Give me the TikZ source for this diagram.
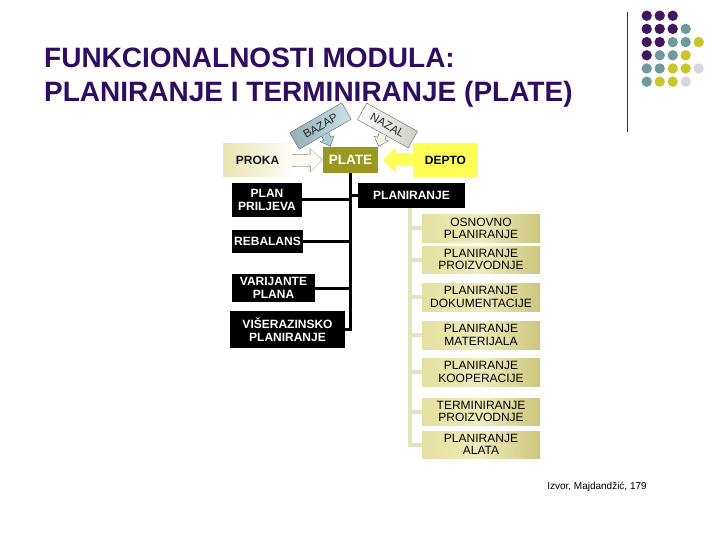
\documentclass[tikz,border=0pt]{standalone}
\usepackage{fontspec}
\setmainfont{Liberation Sans}
\usetikzlibrary{arrows.meta}

\definecolor{titlepurple}{RGB}{48,12,96}
\definecolor{plateolive}{RGB}{153,153,34}
\definecolor{deptoyellow}{RGB}{255,255,85}
\definecolor{bazapblue}{RGB}{168,206,216}
\definecolor{nazalwhite}{RGB}{242,242,228}
\definecolor{prokacream}{RGB}{234,227,176}
\definecolor{khakilight}{RGB}{228,224,160}
\definecolor{khakimid}{RGB}{238,235,188}
\definecolor{khakidark}{RGB}{205,198,126}
\definecolor{khakiline}{RGB}{230,228,190}
\definecolor{dotP}{RGB}{64,22,92}
\definecolor{dotT}{RGB}{111,154,155}
\definecolor{dotY}{RGB}{201,198,42}
\definecolor{dotL}{RGB}{213,213,230}

\begin{document}
\begin{tikzpicture}[
	x=1pt, y=-1pt,
	title/.style={text=titlepurple, font=\bfseries\fontsize{28}{28}\selectfont, inner sep=0pt},
	blackbox/.style={fill=black, text=white, font=\bfseries\fontsize{12}{12.5}\selectfont, align=center, inner sep=0pt},
	khakibox/.style={left color=khakilight, right color=khakidark, middle color=khakimid,
		text=black, font=\fontsize{12}{12.5}\selectfont, align=center, inner sep=0pt,
		minimum width=118, minimum height=27},
	tiltbox/.style={draw=black!60, thin, text=black!85, font=\fontsize{11.5}{11.5}\selectfont, inner sep=0pt,
		minimum height=19},
	branch/.style={line width=3pt},
	subbranch/.style={line width=4pt, khakiline}
]
\useasboundingbox (0,0) rectangle (720,540);

% title and corner
\node[title, anchor=base west] (title1) at (44,68) {FUNKCIONALNOSTI MODULA:};
\node[title, anchor=base west] (title2) at (44,102) {PLANIRANJE I TERMINIRANJE (PLATE)};
\draw[black!80, line width=1pt] (627,12) -- (627,132);
\foreach \r/\cols in {0/{P,P,P}, 1/{P,P,P,T}, 2/{P,P,T,T,Y}, 3/{P,T,T,Y}, 4/{T,T,Y,Y,L}, 5/{T,Y,Y,L}}
	\foreach \col [count=\c from 0] in \cols
		\fill[dot\col] (646.7+13*\c, 15.7+13.2*\r) circle (5.2pt);

% top row
\node[fill=plateolive, text=white, font=\bfseries\fontsize{13.5}{13.5}\selectfont,
	minimum width=55, minimum height=26, inner sep=0pt] (plate) at (350.5,160) {PLATE};
\node[left color=prokacream, right color=white!92!prokacream, text=black!90,
	font=\bfseries\fontsize{12}{12}\selectfont, minimum width=69, minimum height=33,
	inner sep=0pt] (proka) at (257.5,160.5) {PROKA};
\node[fill=deptoyellow, text=black, font=\bfseries\fontsize{12}{12}\selectfont,
	minimum width=65, minimum height=34, inner sep=0pt] (depto) at (445.5,160) {DEPTO};
\node[tiltbox, left color=bazapblue!80!black!90, right color=bazapblue!60!white,
	minimum width=60, rotate=30] (bazap) at (320.5,126) {BAZAP};
\node[tiltbox, left color=white, right color=nazalwhite!80!black!80,
	minimum width=58, rotate=-29] (nazal) at (387.5,125.5) {NAZAL};

\draw[line width=12.6pt, black!35, -{Triangle[length=13pt,width=23.5pt]}] (proka.east) -- (plate.west);
\draw[line width=11pt, white!85!prokacream, -{Triangle[length=11pt,width=21pt]}, shorten >=1pt] (proka.east) -- (plate.west);
\draw[line width=13pt, deptoyellow, -{Triangle[length=13pt,width=26pt]}, shorten >=5pt] (depto.west) -- (plate.east);
\draw[line width=8.4pt, black!55, -{Triangle[length=9pt,width=15.5pt]}] (bazap.south) -- ([xshift=-20pt]plate.north);
\draw[line width=7pt, bazapblue, -{Triangle[length=7.4pt,width=13.5pt]}, shorten >=1.1pt] (bazap.south) -- ([xshift=-20pt]plate.north);
\draw[line width=8.4pt, black!55, -{Triangle[length=9pt,width=15.5pt]}] (nazal.south) -- ([xshift=28pt]plate.north);
\draw[line width=7pt, nazalwhite, -{Triangle[length=7.4pt,width=13.5pt]}, shorten >=1.1pt] (nazal.south) -- ([xshift=28pt]plate.north);

% black branches
\node[blackbox, minimum width=70, minimum height=34] (priljeva) at (267,200) {PLAN\\PRILJEVA};
\node[blackbox, minimum width=71, minimum height=23] (rebalans) at (267.5,241.5) {REBALANS};
\node[blackbox, minimum width=83, minimum height=28] (varijante) at (273.5,288) {VARIJANTE\\PLANA};
\node[blackbox, minimum width=115, minimum height=37] (visera) at (287.5,329.5) {VIŠERAZINSKO\\PLANIRANJE};
\node[blackbox, minimum width=107, minimum height=25] (planiranje) at (411.5,195.5) {PLANIRANJE};

\draw[branch] (plate.south) |- (visera.east);
\draw[branch] (priljeva.east) -- (priljeva.east -| plate.south);
\draw[branch] (rebalans.east) -- (rebalans.east -| plate.south);
\draw[branch] (varijante.east) -- (varijante.east -| plate.south);
\draw[branch] (planiranje.west -| plate.south) -- (planiranje.west);

% planiranje sub items
\node[khakibox] (osnovno) at (481,228.5) {OSNOVNO\\PLANIRANJE};
\node[khakibox] (proizvodnje) at (481,259.5) {PLANIRANJE\\PROIZVODNJE};
\node[khakibox, minimum height=28] (dokumentacije) at (481,297) {PLANIRANJE\\DOKUMENTACIJE};
\node[khakibox, minimum height=28] (materijala) at (481,335) {PLANIRANJE\\MATERIJALA};
\node[khakibox, minimum height=28] (kooperacije) at (481,372) {PLANIRANJE\\KOOPERACIJE};
\node[khakibox] (terminiranje) at (481,411.5) {TERMINIRANJE\\PROIZVODNJE};
\node[khakibox] (alata) at (481,444.5) {PLANIRANJE\\ALATA};

\coordinate (subtop) at ([xshift=-1.5pt]planiranje.south);
\draw[subbranch] (subtop) |- (alata.west);
\foreach \s in {osnovno, proizvodnje, dokumentacije, materijala, kooperacije, terminiranje}
	\draw[subbranch] (\s.west -| subtop) -- (\s.west);

\node[font=\fontsize{10}{10}\selectfont] (izvor) at (597,487) {Izvor, Majdandžić, 179};
\end{tikzpicture}
\end{document}
